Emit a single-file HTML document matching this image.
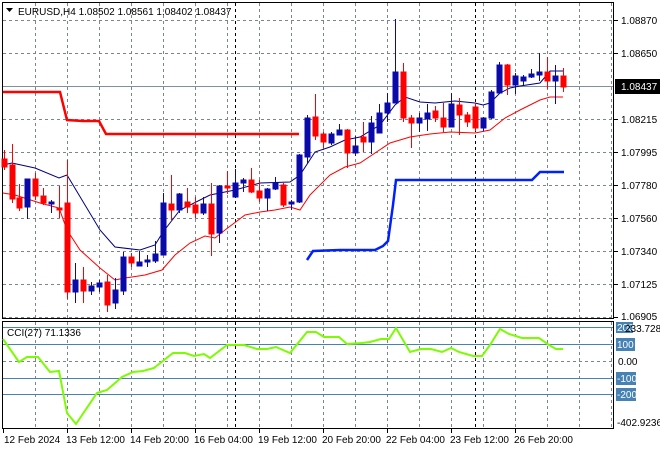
<!DOCTYPE html>
<html><head><meta charset="utf-8"><style>
html,body{margin:0;padding:0;background:#fff;}
svg{display:block;font-family:"Liberation Sans",sans-serif;font-size:10px;}
</style></head><body>
<svg width="660" height="450" viewBox="0 0 660 450" xmlns="http://www.w3.org/2000/svg">
<rect width="660" height="450" fill="#fff"/>
<g stroke="#7a8590" stroke-dasharray="3,3" stroke-width="1">
<path d="M3 20.5H613M3 53.5H613M3 119.5H613M3 152.5H613M3 185.5H613M3 218.5H613M3 251.5H613M3 284.5H613M3 317.5H613"/>
<path d="M35.5 3V318M67.5 3V318M99.5 3V318M131.5 3V318M163.5 3V318M195.5 3V318M227.5 3V318M259.5 3V318M291.5 3V318M323.5 3V318M355.5 3V318M387.5 3V318M419.5 3V318M451.5 3V318M483.5 3V318M515.5 3V318M547.5 3V318M579.5 3V318M611.5 3V318"/>
<path d="M35.5 322V428M67.5 322V428M99.5 322V428M131.5 322V428M163.5 322V428M195.5 322V428M227.5 322V428M259.5 322V428M291.5 322V428M323.5 322V428M355.5 322V428M387.5 322V428M419.5 322V428M451.5 322V428M483.5 322V428M515.5 322V428M547.5 322V428M579.5 322V428M611.5 322V428"/>
<path d="M3 361.5H613"/>
</g>
<g stroke="#000" stroke-dasharray="3,3"><path d="M235.5 3V318M475.5 3V318M235.5 322V428M475.5 322V428"/></g>
<path d="M3 86.5H613" stroke="#8090a0"/>
<rect x="2.5" y="2.5" width="611" height="316" fill="none" stroke="#000"/>
<rect x="2.5" y="321.5" width="611" height="107" fill="none" stroke="#000"/>
<polyline fill="none" stroke="#ff0000" stroke-width="2.5" points="3,92 60,92 67,120 83,121 99,121 106,134 299,134"/>
<polyline fill="none" stroke="#0020ff" stroke-width="2.5" points="307,260 313,251 340,250 375,250 383,246 388,241 393,205 396,180 532,180 540,172 564,172"/>
<polyline fill="none" stroke="#000080" stroke-width="1" points="3,165 12,163 35,168 59,178 67,175 100,230 115,247 140,250 155,245 163,232 180,210 210,195 235,190 260,183 290,182 300,175 315,152 330,147 345,140 360,137 380,125 395,105 405,97 420,102 435,103 455,101 475,103 483,105 490,103 500,93 510,88 520,86 540,83 550,71 563,71"/>
<polyline fill="none" stroke="#ff0000" stroke-width="1" points="3,193 15,195 40,203 59,208 67,230 80,250 100,268 115,280 125,278 145,275 162,270 175,255 190,243 205,236 215,238 225,230 245,215 260,212 275,210 290,207 300,210 310,195 330,175 345,167 360,163 375,153 390,143 400,140 410,137 430,134 450,132 475,133 490,130 505,118 520,110 540,100 550,97 563,97"/>
<g>
<g fill="#ff0000" stroke="#ff0000">
<path d="M4.5 150V170M12.5 144V203M19.5 184V211M35.5 173V200M43.5 188V205M59.5 186V218M67.5 160V299M83.5 267V303M107.5 275V312M131.5 253V267M171.5 175V220M187.5 188V213M195.5 197V218M211.5 183V256M227.5 171V194M251.5 168V193M259.5 180V202M283.5 183V207M315.5 94V140M323.5 132V148M347.5 129V168M363.5 122V152M403.5 63V122M411.5 115V148M435.5 106V122M443.5 103V132M459.5 98V135M467.5 112V127M475.5 103V131M507.5 64V95M547.5 57V89M563.5 68V92"/>
<rect x="2" y="159" width="5" height="8"/><rect x="10" y="165" width="5" height="34"/><rect x="17" y="198" width="5" height="10"/><rect x="33" y="179" width="5" height="17"/><rect x="41" y="196" width="5" height="7"/><rect x="57" y="208" width="5" height="2"/><rect x="65" y="203" width="5" height="89"/><rect x="81" y="280" width="5" height="11"/><rect x="105" y="282" width="5" height="23"/><rect x="129" y="257" width="5" height="6"/><rect x="169" y="204" width="5" height="6"/><rect x="185" y="202" width="5" height="5"/><rect x="193" y="205" width="5" height="8"/><rect x="209" y="204" width="5" height="30"/><rect x="225" y="186" width="5" height="2"/><rect x="249" y="180" width="5" height="12"/><rect x="257" y="191" width="5" height="7"/><rect x="281" y="185" width="5" height="20"/><rect x="313" y="117" width="5" height="19"/><rect x="321" y="134" width="5" height="8"/><rect x="345" y="130" width="5" height="23"/><rect x="361" y="137" width="5" height="5"/><rect x="401" y="72" width="5" height="46"/><rect x="409" y="118" width="5" height="5"/><rect x="433" y="111" width="5" height="7"/><rect x="441" y="118" width="5" height="9"/><rect x="457" y="105" width="5" height="10"/><rect x="465" y="115" width="5" height="7"/><rect x="473" y="107" width="5" height="21"/><rect x="505" y="65" width="5" height="20"/><rect x="545" y="72" width="5" height="9"/><rect x="561" y="76" width="5" height="11"/>
</g>
<g fill="#0a0aa8" stroke="#0a0aa8">
<path d="M27.5 179V219M51.5 200V213M75.5 263V303M91.5 282V295M99.5 280V292M115.5 278V309M123.5 252V295M139.5 251V266M147.5 255V267M155.5 241V263M163.5 193V255M179.5 193V213M203.5 197V215M219.5 185V243M235.5 169V197M243.5 178V192M267.5 188V211M275.5 177V190M291.5 200V210M299.5 154V203M307.5 115V163M331.5 132V145M339.5 124V135M355.5 136V156M371.5 116V154M379.5 104V133M387.5 93V122M395.5 19V103M419.5 113V132M427.5 104V131M451.5 93V127M483.5 117V131M491.5 90V119M499.5 62V93M515.5 73V94M523.5 75V85M531.5 69V78M539.5 53V81M555.5 65V104"/>
<rect x="25" y="179" width="5" height="28"/><rect x="49" y="202" width="5" height="2"/><rect x="73" y="280" width="5" height="12"/><rect x="89" y="286" width="5" height="5"/><rect x="97" y="283" width="5" height="4"/><rect x="113" y="290" width="5" height="13"/><rect x="121" y="257" width="5" height="34"/><rect x="137" y="262" width="5" height="4"/><rect x="145" y="260" width="5" height="2"/><rect x="153" y="254" width="5" height="7"/><rect x="161" y="203" width="5" height="52"/><rect x="177" y="194" width="5" height="16"/><rect x="201" y="204" width="5" height="9"/><rect x="217" y="186" width="5" height="47"/><rect x="233" y="183" width="5" height="14"/><rect x="241" y="180" width="5" height="3"/><rect x="265" y="189" width="5" height="9"/><rect x="273" y="183" width="5" height="6"/><rect x="289" y="202" width="5" height="2"/><rect x="297" y="155" width="5" height="47"/><rect x="305" y="118" width="5" height="39"/><rect x="329" y="134" width="5" height="9"/><rect x="337" y="130" width="5" height="5"/><rect x="353" y="146" width="5" height="7"/><rect x="369" y="123" width="5" height="19"/><rect x="377" y="113" width="5" height="20"/><rect x="385" y="103" width="5" height="10"/><rect x="393" y="72" width="5" height="31"/><rect x="417" y="118" width="5" height="5"/><rect x="425" y="113" width="5" height="6"/><rect x="449" y="104" width="5" height="23"/><rect x="481" y="118" width="5" height="10"/><rect x="489" y="92" width="5" height="26"/><rect x="497" y="65" width="5" height="28"/><rect x="513" y="76" width="5" height="9"/><rect x="521" y="77" width="5" height="4"/><rect x="529" y="74" width="5" height="3"/><rect x="537" y="72" width="5" height="3"/><rect x="553" y="76" width="5" height="5"/>
</g>
</g>
<path d="M6 8h7l-3.5 4z" fill="#000"/>
<text x="18" y="15" fill="#000">EURUSD,H4  1.08502 1.08561 1.08402 1.08437</text>
<g fill="#000">
<path d="M614 20.5h4M614 53.5h4M614 119.5h4M614 152.5h4M614 185.5h4M614 218.5h4M614 251.5h4M614 284.5h4M614 317.5h4" stroke="#000"/>
<text x="621" y="24">1.08870</text><text x="621" y="57">1.08650</text>
<text x="621" y="123">1.08215</text><text x="621" y="156">1.07995</text><text x="621" y="189">1.07780</text><text x="621" y="222">1.07560</text><text x="621" y="255">1.07340</text><text x="621" y="288">1.07125</text><text x="621" y="320">1.06905</text>
</g>
<rect x="615" y="79" width="45" height="15" fill="#000"/>
<text x="621" y="90" fill="#fff">1.08437</text>
<g stroke="#4682b4"><path d="M3 327.5H613M3 344.5H613M3 378.5H613M3 394.5H613"/></g>
<polyline fill="none" stroke="#7cfc00" stroke-width="2" points="3,339 19,362 27,357 38,357 50,372 59,371 67,413 76,424 97,393 107,390 122,377 133,372 143,371 154,368 173,353 185,353 194,356 204,354 210,358 227,345 244,345 257,349 267,349 276,347 290,353 307,332 316,332 324,337 339,337 347,344 362,343 370,342 381,339 389,339 396,328 410,352 421,349 431,349 442,352 451,348 459,352 473,356 482,356 490,345 500,329 509,334 522,338 539,338 549,345 556,349 563,349"/>
<text x="7" y="336" fill="#000">CCI(27) 71.1336</text>
<g>
<rect x="616" y="322" width="17" height="11" fill="#4682b4"/><text x="617" y="331" fill="#fff">200</text>
<text x="625" y="332" fill="#000">233.728</text>
<rect x="616" y="338" width="19" height="13" fill="#4682b4"/><text x="617" y="348" fill="#fff">100</text>
<text x="618" y="365" fill="#000">0.00</text>
<rect x="616" y="372" width="20" height="13" fill="#4682b4"/><text x="617" y="382" fill="#fff">-100</text>
<rect x="616" y="388" width="20" height="13" fill="#4682b4"/><text x="617" y="398" fill="#fff">-200</text>
<text x="617" y="426" fill="#000">-402.9236</text>
</g>
<g stroke="#000"><path d="M3.5 428v5M67.5 428v5M131.5 428v5M195.5 428v5M259.5 428v5M323.5 428v5M387.5 428v5M451.5 428v5M515.5 428v5"/></g>
<g fill="#000">
<text x="4" y="443">12 Feb 2024</text><text x="66" y="443">13 Feb 12:00</text><text x="130" y="443">14 Feb 20:00</text><text x="194" y="443">16 Feb 04:00</text><text x="258" y="443">19 Feb 12:00</text><text x="322" y="443">20 Feb 20:00</text><text x="386" y="443">22 Feb 04:00</text><text x="450" y="443">23 Feb 12:00</text><text x="514" y="443">26 Feb 20:00</text>
</g>
</svg>
</body></html>
